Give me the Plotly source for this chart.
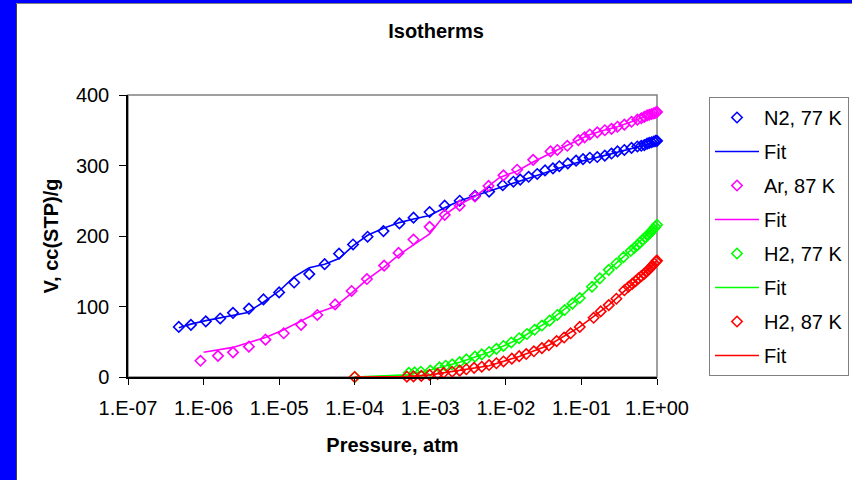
import plotly.graph_objects as go

# ---------------- data ----------------
n2_p = [4.7e-7, 6.8e-7, 1.07e-6, 1.66e-6, 2.45e-6, 3.98e-6, 6.2e-6, 1.0e-5, 1.58e-5, 2.5e-5,
        4.0e-5, 6.2e-5, 9.5e-5, 1.48e-4, 2.4e-4, 3.9e-4, 6.0e-4, 9.8e-4, 1.55e-3, 2.45e-3,
        3.9e-3, 6.0e-3, 9.1e-3, 1.26e-2, 1.55e-2, 2.0e-2, 2.6e-2, 3.3e-2, 4.2e-2, 5.1e-2,
        6.6e-2, 8.5e-2, 0.105, 0.129, 0.162, 0.204, 0.25, 0.30, 0.37, 0.46, 0.55, 0.62,
        0.68, 0.74, 0.79, 0.85, 0.91, 0.96, 1.0]
n2_v = [71, 74, 79, 83, 91, 97, 110, 120, 134, 146,
        160, 175, 188, 199, 207, 218, 226, 234, 243, 250,
        257, 263, 272, 277, 280, 284, 288, 293, 296, 299,
        303, 307, 309, 311, 312, 314, 317, 320, 322, 325, 327, 328,
        329, 331, 332, 333, 334, 335, 335]
n2_fit_p = [4.7e-7, 6.8e-7, 1.07e-6, 1.66e-6, 2.45e-6, 3.7e-6, 6.2e-6, 1.0e-5, 1.58e-5, 2.5e-5,
            4.0e-5, 6.2e-5, 9.5e-5, 1.48e-4, 2.4e-4, 3.9e-4, 6.0e-4, 9.8e-4, 1.55e-3, 2.45e-3,
            3.9e-3, 8.3e-3, 2.0e-2, 5.0e-2, 0.1, 0.2, 0.4, 0.7, 1.0]
n2_fit_v = [70, 75, 80, 84, 88, 91, 106, 122, 142, 155,
            160, 168, 186, 201, 211, 219, 224, 229, 240, 250,
            257, 269, 282, 296, 306, 314, 322, 329, 334]

ar_p = [9.1e-7, 1.55e-6, 2.45e-6, 3.98e-6, 6.6e-6, 1.15e-5, 1.95e-5, 3.2e-5, 5.5e-5, 9.1e-5,
        1.45e-4, 2.45e-4, 3.8e-4, 6.0e-4, 9.8e-4, 1.55e-3, 2.45e-3, 3.9e-3, 5.9e-3, 9.3e-3,
        1.41e-2, 2.3e-2, 3.9e-2, 4.8e-2, 6.5e-2, 9.1e-2, 0.11, 0.129, 0.162, 0.204,
        0.25, 0.30, 0.37, 0.46, 0.55, 0.62, 0.68, 0.74, 0.79, 0.85, 0.91, 0.96, 1.0]
ar_v = [23, 30, 35, 43, 53, 62, 74, 88, 103, 122,
        139, 158, 176, 195, 213, 230, 243, 256, 271, 286,
        294, 308, 320, 322, 328, 336, 340, 344, 347, 350,
        352, 355, 358, 362, 365, 367, 369, 371, 372, 373, 374, 375, 376]
ar_fit_p = [1.0e-6, 2.45e-6, 3.98e-6, 6.6e-6, 1.15e-5, 1.95e-5, 3.2e-5, 5.5e-5, 9.1e-5, 1.45e-4,
            2.45e-4, 3.8e-4, 6.0e-4, 9.8e-4, 1.55e-3, 2.45e-3, 3.9e-3, 5.9e-3, 8.3e-3, 1.4e-2,
            2.3e-2, 4.0e-2, 7.0e-2, 0.13, 0.2, 0.3, 0.46, 0.68, 1.0]
ar_fit_v = [35, 42, 49, 56, 67, 79, 91, 100, 119, 138,
            156, 173, 187, 203, 230, 245, 256, 271, 283, 292,
            305, 318, 330, 344, 350, 355, 362, 369, 376]

h77_p = [1e-4, 5.2e-4, 6.2e-4, 7.5e-4, 1.0e-3, 1.32e-3, 1.6e-3, 1.95e-3, 2.45e-3, 3.0e-3,
         3.9e-3, 4.8e-3, 6.0e-3, 7.5e-3, 9.3e-3, 1.18e-2, 1.5e-2, 1.9e-2, 2.4e-2, 3.0e-2,
         3.8e-2, 4.8e-2, 6.0e-2, 7.6e-2, 9.5e-2, 0.138, 0.175, 0.23, 0.29, 0.36,
         0.45, 0.5, 0.55, 0.6, 0.65, 0.7, 0.75, 0.8, 0.85, 0.9, 0.95, 1.0]
h77_v = [0, 6, 6.5, 7.5, 9, 13.7, 16, 18, 21, 25,
         29, 32, 35.5, 40, 44, 49, 55, 61, 67, 73,
         80, 88, 95, 104, 112, 128, 140, 152, 161, 170,
         179, 183, 187, 191, 195, 198, 201, 204, 207, 210, 213, 216]
h77_fit_p = [1e-4, 2.2e-4, 5e-4, 1e-3, 2.45e-3, 6e-3, 1.5e-2, 3.8e-2, 9.5e-2, 0.23, 0.45, 1.0]
h77_fit_v = [0, 1, 3, 10, 21, 35, 54, 80, 113, 152, 180, 216]

h87_p = [1e-4, 4.9e-4, 6.0e-4, 7.6e-4, 9.8e-4, 1.25e-3, 1.5e-3, 1.95e-3, 2.45e-3, 3.0e-3,
         3.8e-3, 4.8e-3, 6.0e-3, 7.5e-3, 9.3e-3, 1.2e-2, 1.5e-2, 1.86e-2, 2.35e-2, 3.0e-2,
         3.7e-2, 4.7e-2, 5.9e-2, 7.2e-2, 9.5e-2, 0.145, 0.18, 0.23, 0.29, 0.37,
         0.42, 0.47, 0.52, 0.57, 0.62, 0.67, 0.72, 0.77, 0.82, 0.87, 0.92, 0.97, 1.0]
h87_v = [0, 0.5, 0.8, 1.5, 3, 4.5, 6, 7.5, 9, 11,
         13, 14.6, 17, 19.5, 22, 26, 29.5, 32.6, 36.5, 41,
         45, 51, 56, 62, 71, 84, 93, 102, 111, 123,
         128, 132, 136, 140, 143, 146, 149, 152, 155, 158, 161, 164, 165]
h87_fit_p = [1e-4, 5e-4, 1e-3, 2.45e-3, 6e-3, 1.5e-2, 3.7e-2, 9.5e-2, 0.23, 0.45, 1.0]
h87_fit_v = [0, 0.5, 3, 9, 16, 29, 45, 71, 102, 130, 165]

x_tickvals = [1e-7, 1e-6, 1e-5, 1e-4, 1e-3, 1e-2, 1e-1, 1e0]
x_ticktext = ["1.E-07", "1.E-06", "1.E-05", "1.E-04", "1.E-03", "1.E-02", "1.E-01", "1.E+00"]
y_tickvals = [0, 100, 200, 300, 400]

# ---------------- figure ----------------
W, H = 852, 480
L, R, T, B = 128, 657, 95, 377
FS = 20

def px_x(px):
    return (px - L) / (R - L)

def px_y(py):
    return (B - py) / (B - T)

fig = go.Figure()

series = [
    ("N2, 77 K", n2_p, n2_v, n2_fit_p, n2_fit_v, "#0000FF"),
    ("Ar, 87 K", ar_p, ar_v, ar_fit_p, ar_fit_v, "#FF00FF"),
    ("H2, 77 K", h77_p, h77_v, h77_fit_p, h77_fit_v, "#00FF00"),
    ("H2, 87 K", h87_p, h87_v, h87_fit_p, h87_fit_v, "#FF0000"),
]

for i, (name, px, vy, fx, fy, col) in enumerate(series):
    fig.add_trace(go.Scatter(
        x=px, y=vy, mode="markers", name=name, legendgroup=f"g{i}a",
        marker=dict(symbol="diamond-open", size=8, color=col, line=dict(width=1.6, color=col)),
        cliponaxis=False,
    ))
    fig.add_trace(go.Scatter(
        x=fx, y=fy, mode="lines", name="Fit", legendgroup=f"g{i}b",
        line=dict(color=col, width=1.6),
    ))

shapes = [
    dict(type="rect", xref="paper", yref="paper", x0=0, x1=1, y0=0, y1=1,
         line=dict(color="#808080", width=1.5), layer="below"),
    dict(type="rect", xref="paper", yref="paper", x0=px_x(0), x1=px_x(16), y0=px_y(480), y1=px_y(0),
         fillcolor="#0000FF", line=dict(width=0), layer="above"),
    dict(type="rect", xref="paper", yref="paper", x0=px_x(0), x1=px_x(852), y0=px_y(3), y1=px_y(0),
         fillcolor="#0000FF", line=dict(width=0), layer="above"),
    dict(type="line", xref="paper", yref="paper", x0=px_x(16.5), x1=px_x(16.5), y0=px_y(480), y1=px_y(3),
         line=dict(color="#404040", width=1), layer="above"),
    dict(type="line", xref="paper", yref="paper", x0=px_x(16), x1=px_x(852), y0=px_y(3.5), y1=px_y(3.5),
         line=dict(color="#808080", width=1), layer="above"),
]

fig.update_layout(
    width=W, height=H,
    margin=dict(l=L, r=W - R, t=T, b=H - B, autoexpand=False),
    paper_bgcolor="white", plot_bgcolor="white",
    font=dict(family="Liberation Sans, Arial, sans-serif", size=FS, color="black"),
    title=dict(text="<b>Isotherms</b>", x=436 / W, xref="container", xanchor="center",
               y=1 - 31 / H, yref="container", yanchor="middle",
               font=dict(size=FS, color="black")),
    showlegend=True,
    legend=dict(x=px_x(709), y=px_y(97), xanchor="left", yanchor="top",
                bgcolor="white", bordercolor="#808080", borderwidth=1,
                font=dict(size=FS), tracegroupgap=5, traceorder="grouped",
                itemwidth=44),
    shapes=shapes,
)

fig.update_xaxes(
    type="log", range=[-7, 0],
    tickvals=x_tickvals, ticktext=x_ticktext,
    showgrid=False, zeroline=False,
    showline=True, linecolor="black", linewidth=1.5,
    ticks="outside", ticklen=6, tickcolor="black", tickwidth=1,
    tickfont=dict(size=FS), ticklabelstandoff=6,
    title=dict(text="<b>Pressure, atm</b>", font=dict(size=FS), standoff=20),
)
fig.update_yaxes(
    range=[0, 400], tickvals=y_tickvals,
    showgrid=False, zeroline=False,
    showline=True, linecolor="black", linewidth=1.5,
    ticks="outside", ticklen=7, tickcolor="black", tickwidth=1,
    tickfont=dict(size=FS), ticklabelstandoff=6,
    title=dict(text="<b>V, cc(STP)/g</b>", font=dict(size=FS), standoff=12),
)

fig.write_html("out.html")
